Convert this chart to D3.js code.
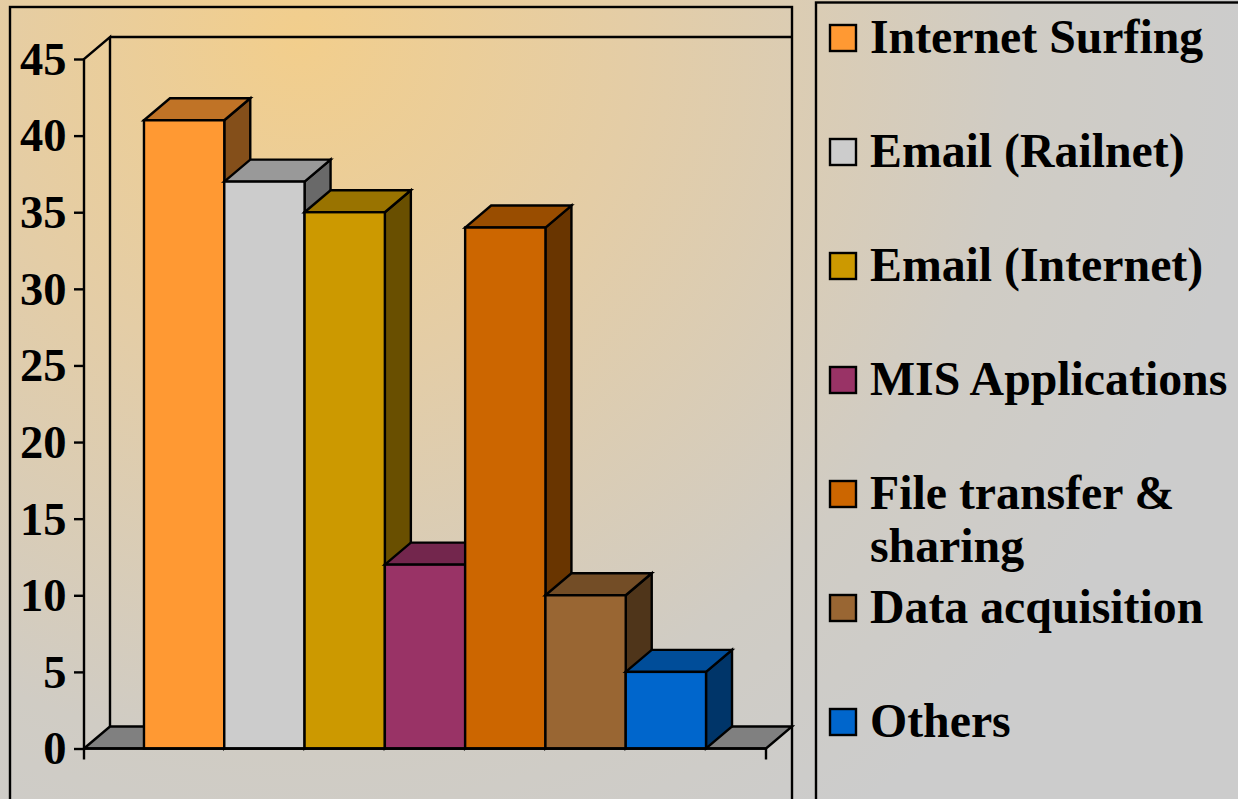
<!DOCTYPE html>
<html>
<head>
<meta charset="utf-8">
<script src="https://cdn.jsdelivr.net/npm/d3@7"></script>
<style>
  html, body { margin: 0; padding: 0; overflow: hidden; }
  text { font-family: "Liberation Serif", serif; font-weight: bold; fill: #000; }
</style>
</head>
<body>
<div id="wrapper"></div>
<script>
const categories = ["Internet Surfing", "Email (Railnet)", "Email (Internet)", "MIS Applications", "File transfer & sharing", "Data acquisition", "Others"]
const values = [41, 37, 35, 12, 34, 10, 5]
const colors = ["#ff9933", "#cccccc", "#cc9900", "#993366", "#cc6600", "#996633", "#0066cc"]
const yTicks = [0, 5, 10, 15, 20, 25, 30, 35, 40, 45]
// legend labels broken the way the picture breaks them
const legendLines = [["Internet Surfing"], ["Email (Railnet)"], ["Email (Internet)"], ["MIS Applications"], ["File transfer &", "sharing"], ["Data acquisition"], ["Others"]]

function drawChart() {
  // 1. dimensions
  const dimensions = { width: 1238, height: 799 }
  const plot = { left: 84, right: 766, top: 59, bottom: 748.5 }
  const depth = { x: 26, y: -22 }
  const stroke = 2.4

  // 2. canvas
  const svg = d3.select("#wrapper").append("svg")
    .attr("width", dimensions.width)
    .attr("height", dimensions.height)
    .style("display", "block")

  const grad = svg.append("defs").append("radialGradient")
    .attr("id", "bg")
    .attr("gradientUnits", "userSpaceOnUse")
    .attr("cx", 300).attr("cy", 40).attr("r", 950)
  grad.append("stop").attr("offset", 0).attr("stop-color", "#f2ce8c")
  grad.append("stop").attr("offset", 0.35).attr("stop-color", "#e4cda6")
  grad.append("stop").attr("offset", 0.75).attr("stop-color", "#d0ccc4")
  grad.append("stop").attr("offset", 1).attr("stop-color", "#cccccc")

  svg.append("rect")
    .attr("width", dimensions.width).attr("height", dimensions.height)
    .attr("fill", "url(#bg)")

  // 3. scales
  const x = d3.scaleBand()
    .domain(categories)
    .range([plot.left, plot.right])
    .paddingInner(0)
    .paddingOuter(0.747)
  const y = d3.scaleLinear().domain([0, 45]).range([plot.bottom, plot.top])

  const line = (pts, closed) => d3.line()(pts) + (closed ? "Z" : "")
  const shade = (c, k) => d3.rgb(c).darker(k).formatHex()

  // 4. frames
  svg.append("rect")
    .attr("x", 10).attr("y", 7).attr("width", 782).attr("height", 830)
    .attr("fill", "none").attr("stroke", "#000").attr("stroke-width", stroke)
  svg.append("rect")
    .attr("x", 816).attr("y", 2.5).attr("width", 460).attr("height", 830)
    .attr("fill", "none").attr("stroke", "#000").attr("stroke-width", stroke)

  // 5. walls and floor
  const y0 = y(0), yMax = y(45)
  const backLeft = plot.left + depth.x, backRight = plot.right + depth.x
  const walls = svg.append("g")
    .attr("fill", "none").attr("stroke", "#000").attr("stroke-width", stroke)
  walls.append("path")
    .attr("d", line([[plot.left, y0], [backLeft, y0 + depth.y], [backRight, y0 + depth.y], [plot.right, y0]], true))
    .attr("fill", "#808080")
  walls.append("path")
    .attr("d", line([[plot.left, y0], [plot.left, yMax], [backLeft, yMax + depth.y], [backLeft, y0 + depth.y]]))
  walls.append("path")
    .attr("d", line([[backLeft, yMax + depth.y], [backRight, yMax + depth.y]]))

  // 6. bars, left to right so each covers its neighbour's side
  const bars = svg.append("g").selectAll("g")
    .data(categories.map((name, i) => ({ name, value: values[i], color: colors[i] })))
    .join("g")
      .attr("stroke", "#000")
      .attr("stroke-width", stroke)
      .attr("stroke-linejoin", "miter")

  bars.append("path") // side
    .attr("fill", d => shade(d.color, 1.85))
    .attr("d", d => {
      const r = x(d.name) + x.bandwidth(), t = y(d.value)
      return line([[r, y0], [r, t], [r + depth.x, t + depth.y], [r + depth.x, y0 + depth.y]], true)
    })
  bars.append("path") // top
    .attr("fill", d => shade(d.color, 0.8))
    .attr("d", d => {
      const l = x(d.name), r = l + x.bandwidth(), t = y(d.value)
      return line([[l, t], [l + depth.x, t + depth.y], [r + depth.x, t + depth.y], [r, t]], true)
    })
  bars.append("rect") // front
    .attr("x", d => x(d.name))
    .attr("y", d => y(d.value))
    .attr("width", x.bandwidth())
    .attr("height", d => y0 - y(d.value))
    .attr("fill", d => d.color)

  // 7. axes
  const yAxis = svg.append("g")
    .attr("transform", `translate(${plot.left},0)`)
    .call(d3.axisLeft(y).tickValues(yTicks).tickSize(10).tickPadding(7.5).tickSizeOuter(0))
  yAxis.select(".domain").remove()
  yAxis.selectAll("line").attr("stroke", "#000").attr("stroke-width", stroke)
  yAxis.selectAll("text").attr("font-size", 46.5).attr("fill", "#000").attr("dy", "0.33em")

  const xAxisG = svg.append("g")
  xAxisG.append("path")
    .attr("d", line([[plot.left, y0], [plot.right, y0]]))
    .attr("stroke", "#000").attr("stroke-width", stroke)
  xAxisG.selectAll("line")
    .data([plot.left, plot.right])
    .join("line")
      .attr("x1", d => d).attr("x2", d => d)
      .attr("y1", y0).attr("y2", y0 + 11)
      .attr("stroke", "#000").attr("stroke-width", stroke)

  // 8. legend
  const legendY = d3.scalePoint()
    .domain(categories)
    .range([38, 722])
  const legend = svg.append("g").selectAll("g")
    .data(categories.map((name, i) => ({ name, color: colors[i], lines: legendLines[i] })))
    .join("g")
      .attr("transform", d => `translate(0,${legendY(d.name)})`)
  legend.append("rect")
    .attr("x", 830).attr("y", -13).attr("width", 26).attr("height", 26)
    .attr("fill", d => d.color)
    .attr("stroke", "#000").attr("stroke-width", stroke)
  legend.append("text")
    .attr("font-size", 47.8)
    .selectAll("tspan")
    .data(d => d.lines)
    .join("tspan")
      .attr("x", 870)
      .attr("y", (d, i) => 15 + i * 53)
      .text(d => d)
}

drawChart()
</script>
</body>
</html>
